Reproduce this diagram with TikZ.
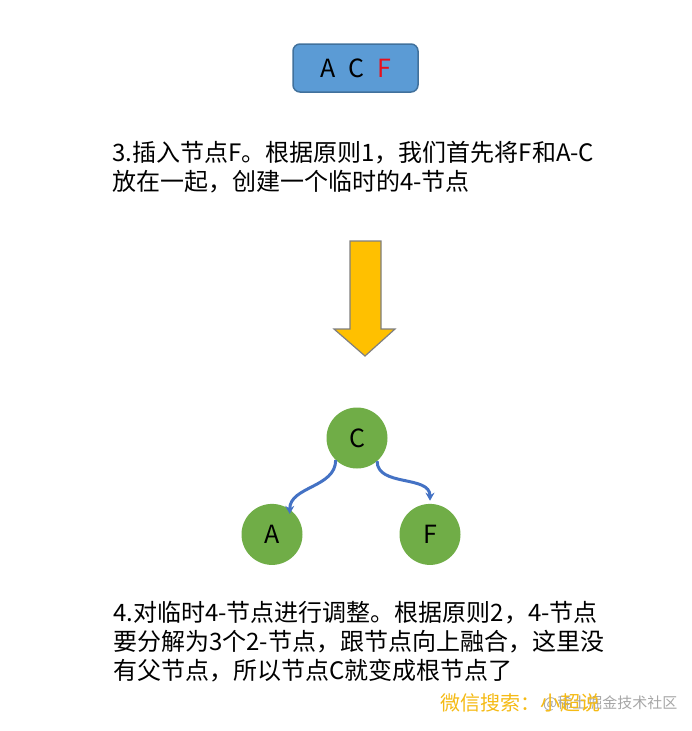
\documentclass[tikz,border=0pt]{standalone}
\usepackage{fontspec}
\setmainfont{Noto Sans CJK SC}
\usepackage{xcolor}
\usetikzlibrary{positioning, arrows.meta}
\definecolor{boxblue}{HTML}{5B9BD5}
\definecolor{boxedge}{HTML}{41719C}
\definecolor{leafgreen}{HTML}{70AD47}
\definecolor{linkblue}{HTML}{4472C4}
\definecolor{arrowgold}{HTML}{FFC000}
\definecolor{arrowedge}{HTML}{7F7F7F}
\definecolor{markred}{HTML}{E8101A}
\definecolor{wmyellow}{HTML}{F5BA14}
\definecolor{wmgray}{HTML}{A6A6A6}

\begin{document}
\begin{tikzpicture}[x=1pt, y=-1pt, node distance=35pt,
    note/.style={anchor=base west, align=left, inner sep=0pt, font=\fontsize{24}{29}\selectfont},
    treenode/.style={circle, fill=leafgreen, minimum size=61pt, inner sep=0pt, font=\fontsize{25}{29}\selectfont},
    link/.style={-{Stealth[length=8pt, width=9pt]}, linkblue, line width=3pt}]
  \useasboundingbox (0,0) rectangle (692,731);

  % the temporary 4-node
  \node (keys) [fill=boxblue, draw=boxedge, line width=1.5pt, rounded corners=7pt,
        minimum width=125pt, minimum height=48pt, font=\fontsize{25}{29}\selectfont]
        at (355.5,68) {A\hspace{13pt}C\hspace{13pt}\textcolor{markred}{F}};

  % base anchor sits on the last line
  \node (step3) [note] at (112,190) {3.插入节点F。根据原则1，我们首先将F和A-C\\放在一起，创建一个临时的4-节点};

  % big down arrow
  \draw[fill=arrowgold, draw=arrowedge, line width=1.2pt, line join=miter]
    (350,241) -- (381,241) -- (381,329) -- (395,329) -- (365,356) -- (334,329) -- (350,329) -- cycle;

  % tree after the split
  \node (C) [treenode] at (357,438) {C};
  \node (A) [treenode, below=35pt of C, xshift=-85pt] {A};
  \node (F) [treenode, below=35pt of C, xshift=73pt] {F};
  \draw[link] (C.226) to[out=-90, in=90] ([shift={(-2pt,-3pt)}]A.50);
  \draw[link] (C.311) to[out=-90, in=90] ([yshift=3pt]F.north);

  \node (step4) [note] at (113,679) {4.对临时4-节点进行调整。根据原则2，4-节点\\要分解为3个2-节点，跟节点向上融合，这里没\\有父节点，所以节点C就变成根节点了};

  % watermark
  \node (wm1) [anchor=west, inner sep=0pt, text=wmgray, font=\fontsize{15}{18}\selectfont] at (543,703) {@稀土掘金技术社区};
  \node (wm2) [anchor=west, inner sep=0pt, text=wmyellow, font=\fontsize{20}{24}\selectfont] at (440,703) {微信搜索：小超说};
\end{tikzpicture}
\end{document}
